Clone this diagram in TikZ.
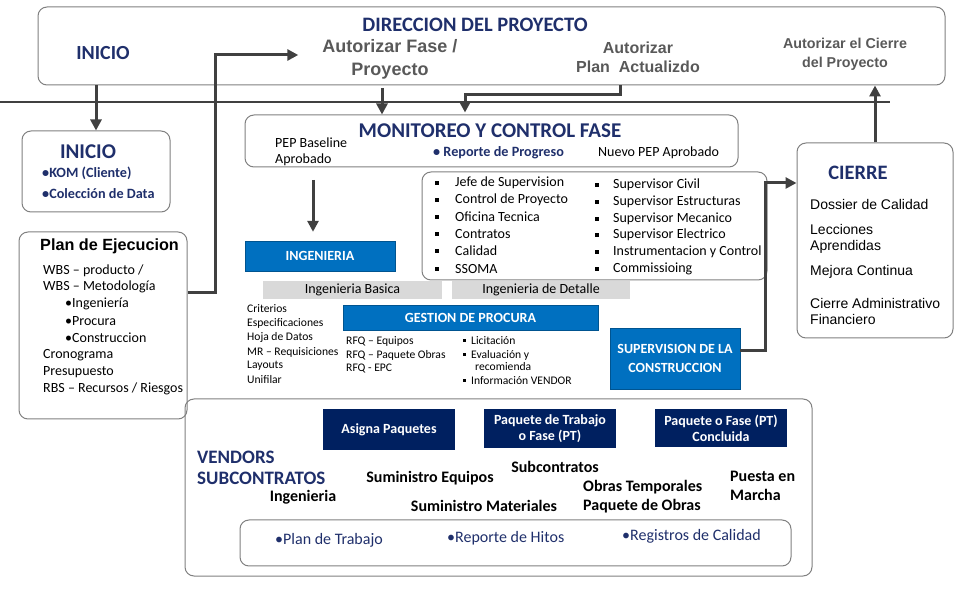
\documentclass[tikz,border=0pt]{standalone}
\usepackage{fontspec}
\setmainfont{Carlito}
\newfontfamily\arialf{Liberation Sans}
\usetikzlibrary{arrows.meta}
\definecolor{navy}{HTML}{1F2F6B}
\definecolor{boxblue}{HTML}{0070C0}
\definecolor{darknavy}{HTML}{002060}
\definecolor{txtgray}{HTML}{595959}
\definecolor{linegray}{HTML}{808080}
\definecolor{arrgray}{HTML}{404040}
\definecolor{bargray}{HTML}{D9D9D9}
\newcommand{\fs}[2]{\fontsize{#1}{#2}\selectfont}
\tikzstyle{frame}=[draw=linegray, rounded corners=9pt, line width=1pt, inner sep=0pt]
\tikzstyle{bluebox}=[fill=boxblue, draw=boxblue!75!black, inner sep=0pt, text=white,
    font=\bfseries\fs{14}{19}, align=center]
\tikzstyle{navybox}=[fill=darknavy, inner sep=0pt, text=white,
    font=\bfseries\fs{14}{16}, align=center]
\tikzstyle{graybar}=[fill=bargray, inner sep=0pt, font=\fs{14}{15}]
\tikzstyle{txt}=[inner sep=0pt, anchor=west, align=left]
\tikzstyle{arr}=[draw=arrgray, line width=3pt, -{Triangle[width=11pt,length=11pt]}]

\begin{document}
\begin{tikzpicture}[x=1pt, y=-1pt]
    \tikzstyle{auth}=[inner sep=0pt, align=center, text=txtgray, font=\arialf\bfseries\fs{18}{23}]
    \tikzstyle{navyt}=[inner sep=0pt, text=navy, font=\bfseries\fs{21}{22}]
    \tikzstyle{sq}=[fill=black, minimum size=4pt, inner sep=0pt]
    \tikzstyle{small}=[txt, font=\fs{11.6}{14}]
    \tikzstyle{bold}=[inner sep=0pt, align=left, font=\bfseries\fs{16}{19}]
  \useasboundingbox (0,0) rectangle (970,593);

  % direccion del proyecto
  \node[frame, minimum width=907pt, minimum height=78pt] (dir) at (491.5,46) {};
  \node[navyt, font=\bfseries\fs{20.5}{22}] (dirtit) at (475,25) {DIRECCION DEL PROYECTO};
  \node[navyt, font=\bfseries\fs{20}{22}] (dirini) at (103,53) {INICIO};
  \node[auth] (autfase) at (390,59.5) {Autorizar Fase /\\Proyecto};
  \node[auth, font=\arialf\bfseries\fs{16}{19}] (autplan) at (638,57.5) {Autorizar\\Plan\ \ Actualizdo};
  \node[auth, font=\arialf\bfseries\fs{14.3}{19}] (autcie) at (845,54.5) {Autorizar el Cierre\\del Proyecto};
  \coordinate (l0) at (0,102);
  \coordinate (l1) at (890,102);
  \draw[arrgray, line width=1.5pt] (l0) -- (l1);

  % inicio
  \node[frame, minimum width=148pt, minimum height=81pt] (ini) at (96,171.5) {};
  \node[navyt] (initit) at (88,152) {INICIO};
  \node[txt, text=navy, font=\bfseries\fs{14.2}{21}] (inilst) at (42,182.5) {•KOM (Cliente)\\•Colección de Data};

  % plan de ejecucion
  \node[frame, minimum width=168pt, minimum height=187pt] (plan) at (103,325.5) {};
  \node[txt, font=\arialf\bfseries\fs{16.2}{18}] (plantit) at (40,246) {Plan de Ejecucion};
  \foreach \name/\x/\y/\lab in {p1/43/271/{WBS – producto /}, p2/43/287/WBS – Metodología,
                                p3/65/304/•Ingeniería, p4/65/321/•Procura, p5/65/338/•Construccion,
                                p6/43/355/Cronograma, p7/43/372/Presupuesto,
                                p8/43/389/{RBS – Recursos / Riesgos}}
        \node[txt, font=\fs{14}{16}] (\name) at (\x,\y) {\lab};

  % monitoreo y control
  \node[frame, minimum width=493pt, minimum height=52pt] (mon) at (491.5,141) {};
  \node[navyt] (montit) at (490,131) {MONITOREO Y CONTROL FASE};
  \node[txt, font=\fs{14}{16}] (pep) at (275,152) {PEP Baseline\\Aprobado};
  \node[txt, text=navy, font=\bfseries\fs{14.2}{16}] (rep) at (433,153) {• Reporte de Progreso};
  \node[txt, font=\fs{14}{16}] (npep) at (598,153) {Nuevo PEP Aprobado};

  % supervision
  \node[frame, minimum width=345pt, minimum height=108pt] (sbox) at (594.5,226) {};
  \foreach \name/\y/\lab in {s1/183/Jefe de Supervision, s2/200/Control de Proyecto,
                             s3/217/Oficina Tecnica, s4/234/Contratos, s5/251/Calidad, s6/269/SSOMA}{
        \node[sq] at (437,\y) {};
        \node[txt, font=\fs{14}{15}] (\name) at (455,\y) {\lab};}
  \foreach \name/\y/\lab in {t1/185/Supervisor Civil, t2/202/Supervisor Estructuras,
                             t3/219/Supervisor Mecanico, t4/235/Supervisor Electrico,
                             t5/252/Instrumentacion y Control, t6/269/Commissioing}{
        \node[sq] at (597,\y) {};
        \node[txt, font=\fs{14}{15}] (\name) at (613,\y) {\lab};}

  % ingenieria y procura
  \node[bluebox, minimum width=150pt, minimum height=30pt] (ing) at (320,256) {INGENIERIA};
  \node[graybar, minimum width=179pt, minimum height=18pt] (ingb) at (352.5,290) {Ingenieria Basica};
  \node[graybar, minimum width=178pt, minimum height=18pt] (ingd) at (541,290) {Ingenieria de Detalle};
  \foreach \name/\y/\lab in {c1/309/Criterios, c2/323/Especificaciones, c3/337/Hoja de Datos,
                             c4/352/MR – Requisiciones, c5/366/Layouts, c6/380/Unifilar}
        \node[small] (\name) at (247,\y) {\lab};
  \node[bluebox, minimum width=255pt, minimum height=25pt] (proc) at (470.5,317.5) {GESTION DE PROCURA};
  \foreach \name/\y/\lab in {r1/341/RFQ – Equipos, r2/355/RFQ – Paquete Obras, r3/369/RFQ - EPC}
        \node[small] (\name) at (346,\y) {\lab};
  \foreach \name/\y/\lab in {b1/341/Licitación, b2/355/Evaluación y, b4/381/Información VENDOR}{
        \node[sq, minimum size=3pt] at (464,\y) {};
        \node[small] (\name) at (471,\y) {\lab};}
  \node[small] (b3) at (475,367) {recomienda};
  \node[bluebox, minimum width=130pt, minimum height=61pt] (sup) at (675,358.5) {SUPERVISION DE LA\\CONSTRUCCION};

  % cierre
  \node[frame, minimum width=156pt, minimum height=195pt] (cie) at (875,240.5) {};
  \node[navyt, font=\bfseries\fs{20.5}{22}] (cietit) at (858,173) {CIERRE};
  \foreach \name/\y/\lab in {k1/204/Dossier de Calidad, k2/239/Lecciones\\Aprendidas,
                             k3/272/Mejora Continua, k4/311.5/Cierre Administrativo\\Financiero}
        \node[txt, font=\arialf\fs{14}{16.5}] (\name) at (810,\y) {\lab};

  % vendors
  \node[frame, minimum width=627pt, minimum height=177pt] (ven) at (498.5,487.5) {};
  \node[navybox, minimum width=132pt, minimum height=41pt] (asig) at (389,429.5) {Asigna Paquetes};
  \node[navybox, minimum width=132pt, minimum height=39pt] (paq) at (550,428.5) {Paquete de Trabajo\\o Fase (PT)};
  \node[navybox, minimum width=132pt, minimum height=38pt] (conc) at (721,428) {Paquete o Fase (PT)\\Concluida};
  \node[txt, text=navy, font=\bfseries\fs{19}{21}] (vtit) at (197,467.5) {VENDORS\\SUBCONTRATOS};
  \node[bold] (v1) at (303,497) {Ingenieria};
  \node[bold] (v2) at (430,478) {Suministro Equipos};
  \node[bold] (v3) at (555,467) {Subcontratos};
  \node[bold] (v4) at (484,506) {Suministro Materiales};
  \node[bold, anchor=west] (v5) at (583,497) {Obras Temporales\\Paquete de Obras};
  \node[bold, anchor=west] (v6) at (730,486) {Puesta en\\Marcha};
  \node[frame, minimum width=551pt, minimum height=46pt] (hit) at (515.5,543) {};
  \foreach \name/\x/\y/\lab in {h1/275/540/•Plan de Trabajo, h2/447/538/•Reporte de Hitos,
                                h3/622/536/•Registros de Calidad}
        \node[txt, text=navy, font=\fs{16}{17}] (\name) at (\x,\y) {\lab};

  % flechas
  \draw[arr] (ini.north |- dir.south) -- (ini.north);
  \draw[arr] ([yshift=33pt]plan.east) -- ++(28,0) |- ([xshift=-24pt,yshift=4.5pt]autfase.west);
  \coordinate (f1) at (382,88);
  \draw[arr] (f1) -- (f1 |- mon.north);
  \coordinate (f2) at (620,85);
  \draw[arr] (f2) -- ++(0,10) -| ([xshift=-26.5pt,yshift=2pt]mon.north);
  \coordinate (f3) at (313,180);
  \draw[arr] (f3) -- ([yshift=9pt]f3 |- ing.north);
  \draw[arr] ([yshift=8pt]sup.east) -- ++(25,0) |- ([yshift=57.5pt]cie.west);
  \draw[arr] (cie.north) -- (cie.north |- dir.south);
\end{tikzpicture}
\end{document}
